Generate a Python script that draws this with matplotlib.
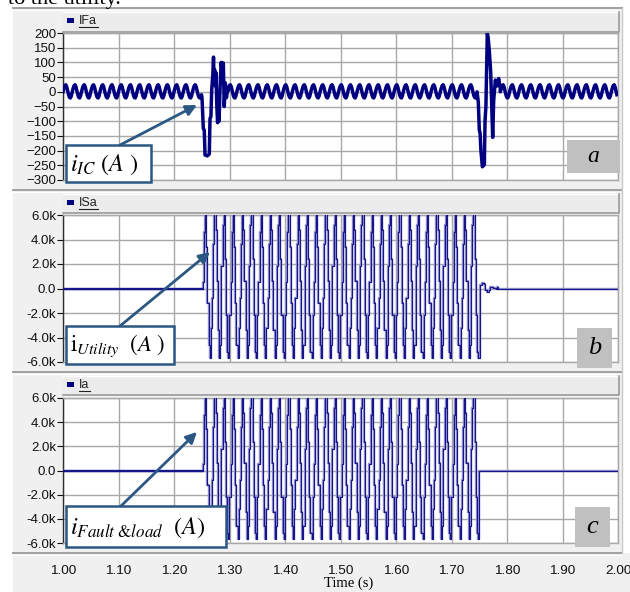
import numpy as np
import matplotlib
matplotlib.use('Agg')
import matplotlib.pyplot as plt
from matplotlib.patches import Rectangle
from matplotlib.ticker import FuncFormatter

plt.rcParams['font.family'] = ['Liberation Sans', 'DejaVu Sans']
plt.rcParams['mathtext.fontset'] = 'stix'

# ── Data ─────────────────────────────────────────────────────────────────────
T_START, T_END = 1.0, 2.0
FREQ_HZ = 60.0
FAULT_ON, FAULT_OFF = 1.252, 1.750

# one steady-state cycle of the inverter current IFa (A)
IC_CYCLE = [0, 12, 21, 24, 17, 4, -10, -19, -21, -14]

# fault inception transient of IFa
IC_TRANS1_T = [1.2495, 1.2505, 1.2528, 1.2545, 1.2559, 1.2600, 1.2636, 1.2649, 1.2665,
               1.2679, 1.2700, 1.2712, 1.2721, 1.2732, 1.2745, 1.2757, 1.2770, 1.2785,
               1.2799, 1.2812, 1.2829, 1.2850, 1.2872, 1.2889, 1.2905, 1.2925, 1.2945, 1.2965]
IC_TRANS1_V = [-10, -20, -125, -130, -215, -218, -212, -90, -85,
               5, 60, 118, 40, 75, 20, 65, -40, -105,
               -60, -100, 10, 100, 60, 98, -50, 30, -20, 10]

# fault clearing transient of IFa
IC_TRANS2_T = [1.7460, 1.7483, 1.7501, 1.7515, 1.7530, 1.7556, 1.7592, 1.7604, 1.7620,
               1.7645, 1.7660, 1.7681, 1.7706, 1.7742, 1.7760, 1.7790, 1.7820, 1.7850, 1.7880]
IC_TRANS2_V = [0, -35, -130, -140, -200, -255, -248, -100, -50,
               199, 185, 140, 68, -155, -30, 40, 20, 45, 10]

# three cycles of the fault current (kA) as the scope steps them (pattern repeats)
FAULT_STEPS_KA = [0.5, 4.6, 6.6, 3.4, -1.2, -4.6, -5.7, -3.2,
                  -0.8, 3.6, 6.6, 4.8, 0.6, -3.4, -5.7, -4.6,
                  1.8, 5.2, 6.6, 2.4, -2.2, -5.2, -5.7, -2.2]
STEPS_PER_CYCLE = 8

# utility current ringing after the breaker opens (kA)
UTIL_TAIL_T = [1.7520, 1.7550, 1.7580, 1.7610, 1.7640, 1.7670, 1.7700, 1.7740,
               1.7800, 1.7815, 1.7830, 1.7900]
UTIL_TAIL_KA = [0.3, 0.45, 0.35, -0.1, -0.3, -0.1, 0.15, 0.02, 0.0, 0.12, 0.0, 0.0]

IC_TICKS = list(range(-300, 201, 50))
KA_TICKS = [-6000, -4000, -2000, 0, 2000, 4000, 6000]
TIME_TICKS = [1.0, 1.1, 1.2, 1.3, 1.4, 1.5, 1.6, 1.7, 1.8, 1.9, 2.0]
TRACE_NAMES = ['IFa', 'ISa', 'Ia']
PANEL_TAGS = ['a', 'b', 'c']

# ── Style ────────────────────────────────────────────────────────────────────
W, H = 630, 592
NAVY = '#000080'
TRACE = '#16168a'
HALO = '#8e8ecc'
GRID = '#a8a8a8'
PANEL_BG = '#f0f0f0'
HEADER_BG = '#ececec'
BOX_EDGE = '#2b5783'
TAG_BG = '#c0c0c0'
SERIF = 'Liberation Serif'


def steady(t0, t1, cycle, per_cycle=None):
    per_cycle = per_cycle or len(cycle)
    step = 1.0 / FREQ_HZ / per_cycle
    n = int(round((t1 - t0) / step))
    return t0 + np.arange(n) * step, np.resize(np.asarray(cycle, float), n)


def px_axes(x0, y0, x1, y1, **kw):
    return fig.add_axes([x0 / W, 1 - y1 / H, (x1 - x0) / W, (y1 - y0) / H], **kw)


# ── Build traces ─────────────────────────────────────────────────────────────
ta1, va1 = steady(T_START, IC_TRANS1_T[0], IC_CYCLE)
ta2, va2 = steady(IC_TRANS1_T[-1], IC_TRANS2_T[0], IC_CYCLE)
ta3, va3 = steady(IC_TRANS2_T[-1], T_END, IC_CYCLE)
t_ic = np.concatenate([ta1, IC_TRANS1_T, ta2, IC_TRANS2_T, ta3])
v_ic = np.concatenate([va1, IC_TRANS1_V, va2, IC_TRANS2_V, va3])

tf, vf = steady(FAULT_ON, FAULT_OFF, FAULT_STEPS_KA, STEPS_PER_CYCLE)
t_util = np.concatenate([[T_START], tf, UTIL_TAIL_T, [T_END]])
v_util = np.concatenate([[0], vf, UTIL_TAIL_KA, [0]]) * 1000
t_load = np.concatenate([[T_START], tf, [FAULT_OFF, T_END]])
v_load = np.concatenate([[0], vf, [0, 0]]) * 1000

# ── Figure ───────────────────────────────────────────────────────────────────
fig = plt.figure(figsize=(W / 100, H / 100), dpi=100, facecolor='white')

bg = fig.add_axes([0, 0, 1, 1], zorder=0)
bg.set_xlim(0, W)
bg.set_ylim(H, 0)
bg.axis('off')
bg.add_patch(Rectangle((13, 8), 609, H, fc=PANEL_BG, ec='none'))
bg.add_patch(Rectangle((13, 553), W, 40, fc=PANEL_BG, ec='none'))
for y in (8, 190, 372, 553):
    bg.plot([13, 622], [y, y], color='#a0a0a0', lw=1.4)
    bg.plot([13, 622], [y + 1.5, y + 1.5], color='white', lw=0.8)
bg.plot([622, 622], [8, 553], color='#c8c8c8', lw=1.0)

header_y = [(12, 32), (194, 213), (376, 395)]
for (y0, y1), name in zip(header_y, TRACE_NAMES):
    bg.add_patch(Rectangle((63, y0), 556, y1 - y0, fc=HEADER_BG, ec='none'))
    bg.plot([63, 619], [y0, y0], color='white', lw=1)
    bg.plot([619, 619, 63], [y0, y1, y1], color='#9a9a9a', lw=1.2)
    yc = (y0 + y1) / 2 - 1
    bg.add_patch(Rectangle((67, yc - 3), 7, 5, fc=NAVY, ec='none'))
    bg.text(79, yc, name, fontsize=9, va='center', ha='left', color='#202020')
    uw = 6.3 * len(name) if name != 'Ia' else 11
    bg.plot([79, 79 + uw], [yc + 6, yc + 6], color='#202020', lw=0.8)

bg.text(8, 4, 'to the utility.', fontsize=16, family=SERIF, va='baseline', ha='left')

axA = px_axes(63, 33, 618, 180, zorder=2)
axB = px_axes(63, 215, 618, 362, zorder=2)
axC = px_axes(63, 398, 618, 543, zorder=2)

axA.plot(t_ic, v_ic, color=NAVY, lw=2.5, solid_joinstyle='round', zorder=3)
for ax, t, v in ((axB, t_util, v_util), (axC, t_load, v_load)):
    ax.plot(t, v, color=HALO, lw=1.7, drawstyle='steps-post', zorder=3)
    ax.plot(t, v, color=TRACE, lw=0.8, drawstyle='steps-post', zorder=4)
    ax.plot([T_START, FAULT_ON], [0, 0], color=TRACE, lw=1.6, zorder=4)

kfmt = FuncFormatter(lambda v, _: '0.0' if v == 0 else f'{v / 1000:.1f}k')
for ax in (axA, axB, axC):
    ax.set_facecolor('white')
    ax.set_xlim(T_START, T_END)
    ax.set_xticks(TIME_TICKS)
    ax.grid(True, color=GRID, lw=1.0)
    ax.set_axisbelow(True)
    for side in ('top', 'right', 'bottom'):
        ax.spines[side].set_color(GRID)
        ax.spines[side].set_linewidth(1.0)
    ax.spines['left'].set_color('#303030')
    ax.spines['left'].set_linewidth(1.0)
    ax.tick_params(axis='y', direction='out', length=4, width=0.8, pad=1,
                   labelsize=9.5, colors='#101010')
    ax.tick_params(axis='x', length=0, labelbottom=False)

axA.set_ylim(-300, 200)
axA.set_yticks(IC_TICKS)
for ax in (axB, axC):
    ax.set_ylim(-6000, 6000)
    ax.set_yticks(KA_TICKS)
    ax.yaxis.set_major_formatter(kfmt)

axC.tick_params(axis='x', labelbottom=True, pad=16, labelsize=9.7, labelcolor='#101010')
axC.set_xticklabels([f'{v:.2f}' for v in TIME_TICKS])
fig.text(349 / W, 1 - 583 / H, 'Time (s)', fontsize=10.5, family=SERIF,
         ha='center', va='center')

# ── Annotations ──────────────────────────────────────────────────────────────
ov = fig.add_axes([0, 0, 1, 1], zorder=10)
ov.set_xlim(0, W)
ov.set_ylim(H, 0)
ov.axis('off')
ov.patch.set_alpha(0)

boxes = [((66, 145, 151, 182), (120, 145), (197, 105), r'$i_{IC}\ (A\ )$', 17.5),
         ((66, 326, 174, 364), (120, 326), (210, 252), r'$\mathrm{i}_{Utility}\ \ (A\ )$', 16.5),
         ((66, 506, 226, 547), (121, 506), (197, 432), r'$i_{Fault\ &load}\ \ (A)$', 17.5)]
for (x0, y0, x1, y1), tail, head, label, fs in boxes:
    ov.add_patch(Rectangle((x0, y0), x1 - x0, y1 - y0, fc='white', ec=BOX_EDGE, lw=1.8))
    ov.annotate('', xy=head, xytext=tail,
                arrowprops=dict(arrowstyle='-|>', color=BOX_EDGE, lw=2,
                                mutation_scale=16, shrinkA=0, shrinkB=0))
    ov.text(x0 + 4, (y0 + y1) / 2 + 1, label, fontsize=fs, va='center', ha='left')

tag_boxes = [(567, 140, 620, 173, 17), (577, 328, 612, 368, 19), (575, 507, 610, 547, 19)]
for (x0, y0, x1, y1, fs), tag in zip(tag_boxes, PANEL_TAGS):
    ov.add_patch(Rectangle((x0, y0), x1 - x0, y1 - y0, fc=TAG_BG, ec='none'))
    ov.text((x0 + x1) / 2, (y0 + y1) / 2, tag, fontsize=fs, family=SERIF,
            style='italic', ha='center', va='center')

fig.savefig('out.png', dpi=100, facecolor='white')
